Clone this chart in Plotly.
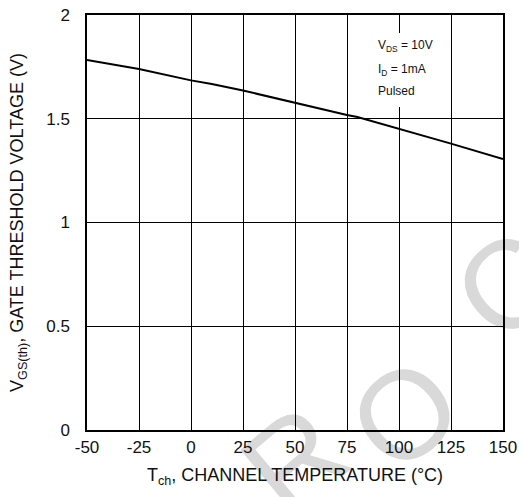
import plotly.graph_objects as go

# Data
temp_c = [-50, -25, 0, 10, 25, 40, 50, 60, 75, 80, 100, 125, 150]
vgs_th = [1.783, 1.740, 1.685, 1.667, 1.636, 1.600, 1.578, 1.552, 1.518, 1.508, 1.452, 1.380, 1.306]

x_ticks = [-50, -25, 0, 25, 50, 75, 100, 125, 150]
x_tick_labels = ["-50", "-25", "0", "25", "50", "75", "100", "125", "150"]
y_ticks = [0, 0.5, 1, 1.5, 2]
y_tick_labels = ["0", "0.5", "1", "1.5", "2"]

cond_lines = ["V<sub>DS</sub> = 10V", "I<sub>D</sub> = 1mA", "Pulsed"]
watermark_letters = ["R", "O", "C"]

FONT = "Liberation Sans, Arial, sans-serif"

fig = go.Figure()
fig.add_trace(go.Scatter(
    x=temp_c, y=vgs_th, mode="lines",
    line=dict(color="black", width=2),
    showlegend=False, hoverinfo="skip",
))

axis_common = dict(
    showgrid=True, gridcolor="black", gridwidth=1.3,
    showline=True, linecolor="black", linewidth=1.5, mirror=True,
    ticks="outside", tickcolor="rgba(0,0,0,0)", zeroline=False, automargin=False,
    ticklabeloverflow="allow",
    tickfont=dict(family=FONT, size=17, color="#111111"),
)

fig.update_xaxes(
    range=[-50, 150], tickvals=x_ticks, ticktext=x_tick_labels, ticklen=1,
    title=dict(text="T<sub>ch</sub>, CHANNEL TEMPERATURE (°C)",
               font=dict(family=FONT, size=18, color="#111111"), standoff=12),
    **axis_common,
)
fig.update_yaxes(
    range=[0, 2], tickvals=y_ticks, ticktext=y_tick_labels, ticklen=12,
    title=dict(text="V<sub>GS(th)</sub>, GATE THRESHOLD VOLTAGE (V)",
               font=dict(family=FONT, size=18, color="#111111"), standoff=18),
    **axis_common,
)

shapes = []
# white box behind the conditions text (hides the grid line)
shapes.append(dict(type="rect", xref="x", yref="y", x0=86, x1=119, y0=1.557, y1=1.913,
                   fillcolor="white", line=dict(width=0), layer="above"))
# faint watermark letters, below the grid
wm_pos = [(0.48, -0.05), (0.745, 0.06), (0.99, 0.37)]
for ch, (xp, yp) in zip(watermark_letters, wm_pos):
    shapes.append(dict(
        type="rect", xref="paper", yref="paper",
        x0=xp - 0.05, x1=xp + 0.05, y0=yp - 0.05, y1=yp + 0.05,
        line=dict(width=0), fillcolor="rgba(0,0,0,0)", layer="below",
        label=dict(text=ch, textangle=-40, textposition="middle center",
                   font=dict(family=FONT, size=125, color="#d9d9d9")),
    ))
fig.update_layout(shapes=shapes)

cond_y = [1.851, 1.737, 1.632]
for txt, yy in zip(cond_lines, cond_y):
    fig.add_annotation(x=89, y=yy, xref="x", yref="y", text=txt, showarrow=False,
                       xanchor="left", yanchor="middle",
                       font=dict(family=FONT, size=12, color="#111111"))

fig.update_layout(
    width=519, height=497,
    margin=dict(l=87, r=16, t=15, b=67),
    paper_bgcolor="white", plot_bgcolor="rgba(0,0,0,0)",
)

# remove the default 8px body margin so the figure fills the window exactly
fig.write_html(
    "out.html",
    config={"displayModeBar": False},
    post_script="document.body.style.margin='0';document.body.style.overflow='hidden';",
)
